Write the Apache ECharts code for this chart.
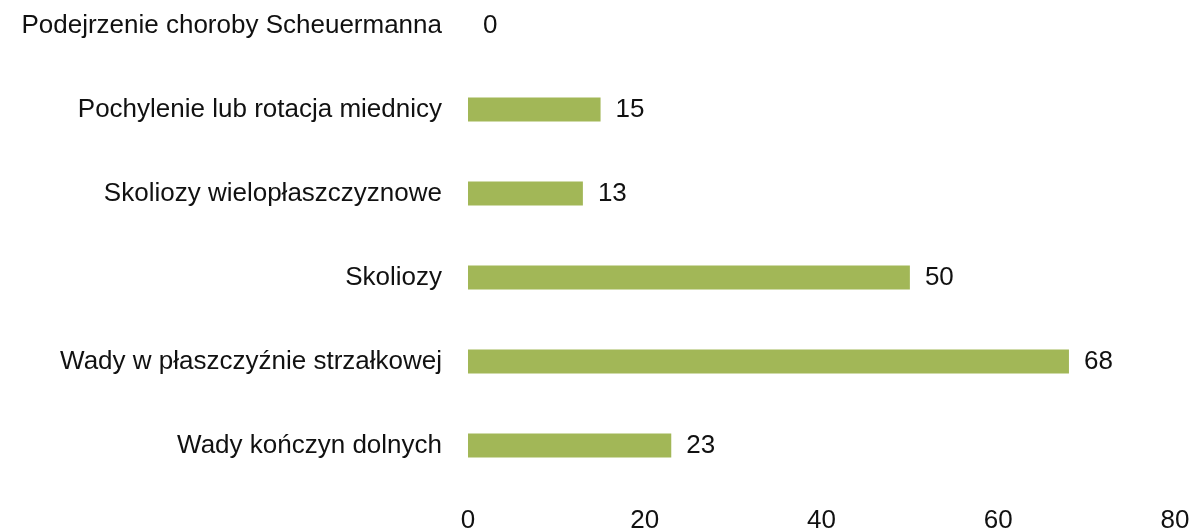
<!DOCTYPE html>
<html>
<head>
<meta charset="utf-8">
<script src="https://cdn.jsdelivr.net/npm/echarts@6/dist/echarts.min.js"></script>
<style>
html,body{margin:0;padding:0;background:#fff;}
#chart{width:1191px;height:531px;}
</style>
</head>
<body>
<div id="chart"></div>
<script>
// Bottom-to-top order (category axis starts from bottom)
const categories = [
  "Wady kończyn dolnych",
  "Wady w płaszczyźnie strzałkowej",
  "Skoliozy",
  "Skoliozy wielopłaszczyznowe",
  "Pochylenie lub rotacja miednicy",
  "Podejrzenie choroby Scheuermanna"
];
const values = [23, 68, 50, 13, 15, 0];
const xTicks = [0, 20, 40, 60, 80];

const font = '"Liberation Sans", Arial, sans-serif';
const chart = echarts.init(document.getElementById('chart'), null, {renderer: 'canvas'});
chart.setOption({
  backgroundColor: '#ffffff',
  animation: false,
  grid: {left: 468, right: 16, top: 25.5, bottom: 85.5, containLabel: false, outerBoundsMode: 'none'},
  xAxis: {
    type: 'value',
    min: xTicks[0],
    max: xTicks[xTicks.length - 1],
    interval: 20,
    axisLine: {show: false},
    axisTick: {show: false},
    splitLine: {show: false},
    axisLabel: {color: '#111', fontSize: 26, fontFamily: font, margin: 62}
  },
  yAxis: {
    type: 'category',
    data: categories,
    boundaryGap: false,
    axisLine: {show: false},
    axisTick: {show: false},
    splitLine: {show: false},
    axisLabel: {color: '#111', fontSize: 26, fontFamily: font, margin: 26, padding: [0, 0, 4, 0]}
  },
  series: [{
    type: 'bar',
    data: values,
    barWidth: 24,
    itemStyle: {color: '#a2b757'},
    label: {
      show: true,
      position: 'right',
      distance: 15,
      color: '#111',
      fontSize: 26,
      fontFamily: font
    }
  }]
});
</script>
</body>
</html>
